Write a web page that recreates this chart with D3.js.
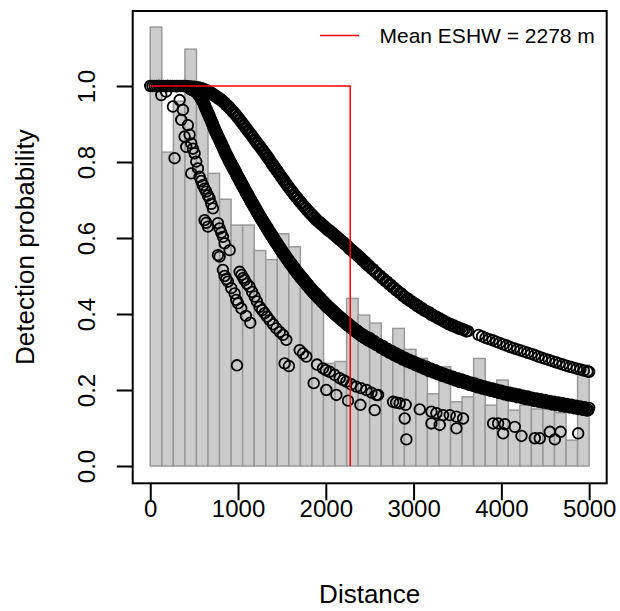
<!DOCTYPE html>
<html>
<head>
<meta charset="utf-8">
<script src="https://cdn.jsdelivr.net/npm/d3@7"></script>
<style>
  body { margin: 0; background: #fff; }
  svg { display: block; }
  text { font-family: "Liberation Sans", Arial, Helvetica, sans-serif; fill: #000; }
</style>
</head>
<body>
<svg id="chart" width="620" height="611"></svg>
<script>
// ---- data ---------------------------------------------------------------
// Histogram of scaled detection frequencies (38 equal-width bins over 0..5000 m)
const histMax = 5000;
const histHeights = [1.155, 0.826, 0.96, 1.097, 0.97, 0.770, 0.702, 0.634, 0.634, 0.567,
  0.543, 0.611, 0.577, 0.487, 0.45, 0.27, 0.275, 0.441, 0.397, 0.376,
  0.305, 0.362, 0.307, 0.283, 0.19, 0.261, 0.169, 0.182, 0.283, 0.16,
  0.226, 0.147, 0.16, 0.15, 0.15, 0.14, 0.068, 0.266];

// Fitted detection probability per observation, high-detectability group
const upperObsA = [
  [0,1],[25,1],[50,1],[75,1],[100,1],[125,1],[150,1],[175,1],[200,1],[225,1],[250,1],[275,1],[300,1],
  [325,1],[350,1],[375,1],[400,1],[425,.999],[450,.999],[475,.998],
  [500,.998],[525,.997],[550,.996],[575,.995],[600,.993],[625,.990],[650,.988],[675,.985],[700,.982],
  [725,.978],[750,.974],[775,.970],[800,.966],[825,.961],[850,.956],[875,.950],[900,.945],[925,.938],
  [950,.932],[975,.925],[1000,.918],[1025,.911],[1050,.903],[1075,.896],[1100,.888],[1125,.880],
  [1150,.873],[1175,.865],[1200,.857],[1225,.849],[1250,.842],[1275,.834],[1300,.826],[1325,.818],
  [1350,.810],[1375,.801],[1400,.793],[1425,.785],[1450,.777],[1475,.768],[1500,.760],[1525,.752],
  [1550,.744],[1575,.736],[1600,.728],[1625,.721],[1650,.713],[1675,.706],[1700,.699],[1725,.692],
  [1750,.685],[1775,.679],[1800,.672],[1825,.666],[1850,.660],[1875,.654],[1900,.648],[1925,.643],
  [1950,.638],[1975,.633],[2000,.628],[2025,.623],[2050,.619],[2075,.614],[2100,.609],[2125,.604],
  [2150,.599],[2175,.594],[2200,.589],[2225,.584],[2250,.579],[2275,.573],[2300,.568],[2325,.563],
  [2350,.558],[2375,.553],[2400,.548],[2425,.542],[2450,.537],[2475,.531],
  [2500,.526],[2540,.518],[2580,.509],[2620,.501],[2660,.493],[2700,.485],[2740,.477],[2780,.469],
  [2820,.461],[2860,.454],[2900,.446],[2940,.440],[2980,.433],[3020,.427],[3060,.421],[3100,.415],
  [3140,.409],[3180,.404],[3220,.398],[3260,.393],[3300,.388],[3340,.383],[3380,.378],[3420,.374],
  [3460,.370],[3500,.366],[3540,.362],[3580,.359],[3620,.355],
  [3740,.345],[3780,.341],[3820,.337],[3860,.334],[3900,.331],[3940,.327],[3980,.324],[4020,.320],
  [4060,.317],[4100,.313],[4140,.310],[4180,.307],[4220,.304],[4260,.301],[4300,.298],[4340,.295],
  [4380,.292],[4420,.288],[4460,.285],[4500,.282],[4540,.279],[4580,.276],[4620,.273],[4660,.270],
  [4700,.267],[4740,.264],[4780,.261],[4820,.259],[4860,.256],[4900,.254],[4940,.251],[4980,.249],[5000,.248]
];
const upperObsB = [
  [512,.995],[537,.994],[562,.993],[587,.991],[612,.989],[637,.986],[662,.984],[687,.981],[712,.977],
  [737,.973],[762,.969],[787,.965],[812,.961],[837,.956],[862,.950],[887,.945],[912,.939],[937,.932],
  [962,.926],[987,.919],[1012,.912],[1037,.904],[1062,.897],[1087,.889],[1112,.881],[1137,.874],
  [1162,.866],[1187,.858],[1212,.850],[1237,.843],[1262,.835],[1287,.827],[1312,.819],[1337,.811],
  [1362,.803],[1387,.794],[1412,.786],[1437,.778],[1462,.770],[1487,.761],[1512,.753],[1537,.745],
  [1562,.737],[1587,.729],[1612,.722],[1637,.714],[1662,.707],[1687,.700],[1712,.693],[1737,.686],
  [1762,.679],[1787,.673],[1812,.666],[1837,.660],[1862,.654],[1887,.648],[1912,.643],[1937,.638],
  [1962,.633],[1987,.628],[2012,.623],[2037,.618],[2062,.614],[2087,.609],[2112,.604],[2137,.599],
  [2162,.594],[2187,.589],[2212,.584],[2237,.579],[2262,.573],[2287,.568],[2312,.563],[2337,.558],
  [2362,.553],[2387,.548],[2412,.542],[2437,.537],[2462,.531],[2487,.526],
  [2520,.519],[2560,.511],[2600,.502],[2640,.494],[2680,.486],[2720,.478],[2760,.470],[2800,.462],
  [2840,.455],[2880,.447],[2920,.440],[2960,.434],[3000,.427],[3040,.421],[3080,.415],[3120,.409],
  [3160,.404],[3200,.398],[3240,.393],[3280,.388],[3320,.383],[3360,.378],[3400,.373],[3440,.369],
  [3480,.365],[3520,.361],[3560,.358],[3600,.354]
];

// Intermediate-detectability group
const middleObsA = [
  [100,1],[200,1],[300,.999],[400,.999],
  [450,.998],[460,.997],[470,.996],[480,.995],[490,.994],[500,.993],[510,.991],[520,.989],[530,.987],
  [540,.984],[550,.982],[560,.978],[570,.974],[580,.970],[590,.966],[600,.962],[610,.957],[620,.951],
  [630,.946],[640,.940],[650,.935],[660,.929],[670,.924],[680,.918],[690,.913],[700,.907],[710,.902],
  [720,.896],[730,.891],[740,.885],[750,.880],[760,.875],[770,.870],[780,.865],[790,.860],[800,.855],
  [810,.850],[820,.845],[830,.840],[840,.835],[850,.830],[860,.825],[870,.820],[880,.816],[890,.811],
  [900,.806],[910,.802],[920,.798],[930,.793],[940,.789],[950,.785],[960,.781],[970,.776],[980,.772],
  [990,.767],[1000,.763],[1010,.759],[1020,.754],[1030,.750],[1040,.745],[1050,.741],[1060,.737],
  [1070,.733],[1080,.728],[1090,.724],[1100,.720],[1110,.716],[1120,.712],[1130,.707],[1140,.703],
  [1150,.699],[1160,.695],[1170,.691],[1180,.687],[1190,.683],[1200,.679],[1210,.675],[1220,.671],
  [1230,.667],[1240,.663],[1250,.659],[1260,.655],[1270,.651],[1280,.648],[1290,.644],[1300,.640],
  [1310,.636],[1320,.632],[1330,.629],[1340,.625],[1350,.621],[1360,.617],[1370,.614],[1380,.610],
  [1390,.607],[1400,.603],[1410,.599],[1420,.596],[1430,.592],[1440,.589],[1450,.585],[1460,.582],
  [1470,.578],[1480,.575],[1490,.571],[1500,.568],
  [1515,.563],[1530,.558],[1545,.553],[1560,.548],[1575,.543],[1590,.538],[1605,.534],[1620,.529],
  [1635,.524],[1650,.520],[1665,.515],[1680,.511],[1695,.506],[1710,.502],[1725,.498],[1740,.494],
  [1755,.490],[1770,.485],[1785,.481],[1800,.477],[1815,.473],[1830,.469],[1845,.465],[1860,.461],
  [1875,.457],[1890,.454],[1905,.450],[1920,.446],[1935,.443],[1950,.439],[1965,.435],[1980,.432],
  [1995,.428],[2010,.425],[2025,.421],[2040,.418],[2055,.415],[2070,.412],[2085,.408],[2100,.405],
  [2115,.402],[2130,.399],[2145,.396],[2160,.393],[2175,.390],[2190,.387],[2205,.384],[2220,.381],
  [2235,.378],[2250,.376],[2265,.373],[2280,.370],[2295,.367],[2310,.364],[2325,.362],[2340,.359],
  [2355,.357],[2370,.354],[2385,.351],[2400,.349],[2415,.347],[2430,.344],[2445,.342],[2460,.340],
  [2475,.337],[2490,.335],
  [2500,.337],[2525,.325],[2550,.329],[2575,.318],[2600,.322],[2625,.311],[2650,.316],[2675,.304],
  [2700,.309],[2725,.298],[2750,.303],[2775,.292],[2800,.297],[2825,.286],[2850,.291],[2875,.280],
  [2900,.285],[2925,.275],[2950,.280],[2975,.270],[3000,.275],[3025,.265],[3050,.270],[3075,.260],
  [3100,.265],[3125,.255],[3150,.261],[3175,.250],[3200,.256],[3225,.246],[3250,.252],[3275,.241],
  [3300,.247],[3325,.237],[3350,.243],[3375,.233],[3400,.239],[3425,.229],[3450,.235],[3475,.225],
  [3500,.231],[3525,.221],[3550,.228],[3575,.218],[3600,.224],[3625,.214],[3650,.220],[3675,.211],
  [3700,.217],[3725,.207],[3750,.213],[3775,.204],[3800,.210],[3825,.201],[3850,.207],[3875,.198],
  [3900,.204],[3925,.195],[3950,.201],[3975,.192],[4000,.198],[4025,.189],[4050,.195],[4075,.186],
  [4100,.193],[4125,.184],[4150,.190],[4175,.181],[4200,.188],[4225,.179],[4250,.185],[4275,.176],
  [4300,.183],[4325,.174],[4350,.180],[4375,.171],[4400,.178],[4425,.169],[4450,.176],[4475,.167],
  [4500,.174],[4525,.165],[4550,.171],[4575,.162],[4600,.169],[4625,.160],[4650,.167],[4675,.158],
  [4700,.165],[4725,.156],[4750,.163],[4775,.154],[4800,.161],[4825,.152],[4850,.159],[4875,.150],
  [4900,.157],[4925,.148],[4950,.155],[4975,.146],[5000,.153],[4990,.147]
];
const middleObsB = [
  [455,.992],[465,.991],[475,.990],[485,.989],[495,.988],[505,.987],[515,.985],[525,.983],[535,.981],
  [545,.978],[555,.975],[565,.971],[575,.967],[585,.963],[595,.959],[605,.955],[615,.949],[625,.944],
  [635,.938],[645,.933],[655,.927],[665,.922],[675,.916],[685,.911],[695,.905],[705,.900],[715,.894],
  [725,.889],[735,.883],[745,.878],[755,.873],[765,.868],[775,.863],[785,.858],[795,.853],[805,.848],
  [815,.843],[825,.838],[835,.833],[845,.828],[855,.823],[865,.818],[875,.813],[885,.809],[895,.804],
  [905,.799],[915,.795],[925,.791],[935,.786],[945,.782],[955,.778],[965,.774],[975,.769],[985,.765],
  [995,.760],[1005,.756],[1015,.752],[1025,.747],[1035,.743],[1045,.738],[1055,.734],[1065,.730],
  [1075,.726],[1085,.721],[1095,.717],[1105,.713],[1115,.709],[1125,.705],[1135,.700],[1145,.696],
  [1155,.692],[1165,.688],[1175,.684],[1185,.680],[1195,.676],[1205,.672],[1215,.668],[1225,.664],
  [1235,.660],[1245,.656],[1255,.652],[1265,.648],[1275,.645],[1285,.641],[1295,.637],[1305,.633],
  [1315,.629],[1325,.626],[1335,.622],[1345,.618],[1355,.614],[1365,.611],[1375,.607],[1385,.604],
  [1395,.600],[1405,.596],[1415,.593],[1425,.589],[1435,.586],[1445,.582],[1455,.579],[1465,.575],
  [1475,.572],[1485,.568],[1495,.565],
  [1507,.560],[1522,.555],[1537,.550],[1552,.545],[1567,.540],[1582,.535],[1597,.530],[1612,.526],
  [1627,.521],[1642,.516],[1657,.512],[1672,.507],[1687,.503],[1702,.498],[1717,.494],[1732,.490],
  [1747,.486],[1762,.482],[1777,.477],[1792,.473],[1807,.469],[1822,.465],[1837,.461],[1852,.457],
  [1867,.453],[1882,.450],[1897,.446],[1912,.442],[1927,.439],[1942,.435],[1957,.431],[1972,.428],
  [1987,.424],[2002,.421],[2017,.417],[2032,.414],[2047,.411],[2062,.408],[2077,.404],[2092,.401],
  [2107,.398],[2122,.395],[2137,.392],[2152,.389],[2167,.386],[2182,.383],[2197,.380],[2212,.377],
  [2227,.374],[2242,.371],[2257,.369],[2272,.366],[2287,.363],[2302,.360],[2317,.357],[2332,.355],
  [2347,.352],[2362,.350],[2377,.347],[2392,.344],[2407,.342],[2422,.340],[2437,.337],[2452,.335],
  [2467,.333],[2482,.330],
  [2512,.331],[2537,.327],[2562,.323],[2587,.320],[2612,.316],[2637,.313],[2662,.310],[2687,.306],
  [2712,.303],[2737,.300],[2762,.297],[2787,.294],[2812,.291],[2837,.288],[2862,.285],[2887,.282],
  [2912,.280],[2937,.277],[2962,.275],[2987,.272],[3012,.270],[3037,.267],[3062,.265],[3087,.262],
  [3112,.260],[3137,.258],[3162,.255],[3187,.253],[3212,.251],[3237,.249],[3262,.246],[3287,.244],
  [3312,.242],[3337,.240],[3362,.238],[3387,.236],[3412,.234],[3437,.232],[3462,.230],[3487,.228],
  [3512,.226],[3537,.224],[3562,.223],[3587,.221],[3612,.219],[3637,.217],[3662,.215],[3687,.214],
  [3712,.212],[3737,.210],[3762,.208],[3787,.207],[3812,.205],[3837,.204],[3862,.202],[3887,.201],
  [3912,.199],[3937,.198],[3962,.196],[3987,.195],[4012,.193],[4037,.192],[4062,.190],[4087,.189],
  [4112,.188],[4137,.187],[4162,.185],[4187,.184],[4212,.183],[4237,.182],[4262,.180],[4287,.179],
  [4312,.178],[4337,.177],[4362,.175],[4387,.174],[4412,.173],[4437,.172],[4462,.171],[4487,.170],
  [4512,.169],[4537,.168],[4562,.166],[4587,.165],[4612,.164],[4637,.163],[4662,.162],[4687,.161],
  [4712,.160],[4737,.159],[4762,.158],[4787,.157],[4812,.156],[4837,.155],[4862,.154],[4887,.153],
  [4912,.152],[4937,.151],[4962,.150],[4987,.149]
];

// Low-detectability group
const lowerObs = [
  [125,.976],[180,.985],[258,.946],[334,.963],[372,.937],[277,.810],[353,.911],[391,.867],[410,.840],
  [429,.897],[448,.872],[467,.849],[486,.835],[505,.823],[524,.801],[467,.770],[543,.783],[562,.761],
  [581,.750],[600,.739],[619,.730],[638,.722],[657,.712],[676,.704],[695,.690],[714,.678],[619,.647],
  [638,.640],[657,.630],[771,.639],[790,.625],[809,.614],[828,.603],[847,.586],[771,.555],[904,.568],
  [790,.551],[828,.516],[847,.500],[866,.492],[885,.485],[923,.468],[961,.454],[980,.437],[1000,.428],
  [1037,.415],[1090,.395],[1140,.377],[988,.265],
  [1018,.511],[1040,.503],[1060,.495],[1075,.489],[1100,.480],[1132,.472],[1160,.458],[1189,.446],
  [1215,.433],[1246,.419],[1275,.410],[1303,.402],[1330,.393],[1360,.384],[1400,.373],[1436,.362],
  [1475,.353],[1512,.345],[1550,.332],[1531,.270],[1580,.263],
  [1702,.305],[1740,.296],[1778,.288],
  [1900,.267],[1968,.257],[2000,.252],[2044,.248],[2100,.240],[2158,.231],[2200,.226],[2234,.222],
  [2290,.215],[2348,.209],[2400,.205],[2462,.200],[2520,.193],[2576,.187],[2595,.187],
  [1862,.218],[2006,.200],[2120,.187],[2253,.172],[2394,.161],[2557,.147],
  [2766,.169],[2800,.167],[2842,.165],[2910,.161],[2899,.125],[2918,.070],
  [3070,.149],[3203,.143],[3260,.139],[3336,.134],[3412,.134],[3488,.130],[3564,.125],
  [3203,.112],[3298,.108],[3488,.099],
  [3906,.112],[3963,.112],[4039,.110],[4153,.103],[4020,.086],[4229,.079],[4381,.073],[4438,.073],
  [4552,.090],[4609,.070],[4674,.090],[4875,.086]
];

const meanESHW = 2278;
const legendLabel = "Mean ESHW = 2278 m";
const xTicks = [0, 1000, 2000, 3000, 4000, 5000];
const yTicks = [0, 0.2, 0.4, 0.6, 0.8, 1.0];
const xTitle = "Distance";
const yTitle = "Detection probability";

// ---- layout -------------------------------------------------------------
const plot = { left: 132.7, right: 606.7, top: 11, bottom: 483.3 };
const svg = d3.select("#chart");

const x = d3.scaleLinear().domain([-200, 5200]).range([plot.left, plot.right]);
const y = d3.scaleLinear().domain([-0.04553, 1.19737]).range([plot.bottom, plot.top]);

// ---- histogram ----------------------------------------------------------
const binW = histMax / histHeights.length;
svg.append("g").selectAll("rect")
  .data(histHeights)
  .join("rect")
  .attr("x", (d, i) => x(i * binW))
  .attr("width", (d, i) => x((i + 1) * binW) - x(i * binW))
  .attr("y", d => y(d))
  .attr("height", d => y(0) - y(d))
  .attr("fill", "#cccccc")
  .attr("stroke", "#999999")
  .attr("stroke-width", 1.5);

// ---- observation points -------------------------------------------------
const pts = svg.append("g")
  .attr("fill", "none")
  .attr("stroke", "#000")
  .attr("stroke-width", 1.8);
[upperObsA, upperObsB, middleObsA, middleObsB, lowerObs].forEach(group => {
  pts.append("g").selectAll("circle")
    .data(group)
    .join("circle")
    .attr("cx", d => x(d[0]))
    .attr("cy", d => y(d[1]))
    .attr("r", 5.3);
});

// ---- mean effective strip half-width ------------------------------------
svg.append("path")
  .attr("d", d3.line()([[x(0), y(1)], [x(meanESHW), y(1)], [x(meanESHW), y(0)]]))
  .attr("fill", "none")
  .attr("stroke", "#ff0000")
  .attr("stroke-width", 1.5);

// ---- frame and axes -----------------------------------------------------
svg.append("rect")
  .attr("x", plot.left).attr("y", plot.top)
  .attr("width", plot.right - plot.left).attr("height", plot.bottom - plot.top)
  .attr("fill", "none").attr("stroke", "#000").attr("stroke-width", 2);

const xAxis = svg.append("g")
  .attr("transform", `translate(0,${plot.bottom})`)
  .call(d3.axisBottom(x).tickValues(xTicks).tickSize(17).tickFormat(d3.format("d")));
xAxis.select(".domain").remove();
xAxis.selectAll(".tick line").attr("stroke-width", 2);
xAxis.selectAll(".tick text")
  .attr("y", 34).attr("dy", 0)
  .style("font-size", "24px")
  .style("font-family", "'Liberation Sans', Arial, sans-serif");

const yAxis = svg.append("g")
  .attr("transform", `translate(${plot.left},0)`)
  .call(d3.axisLeft(y).tickValues(yTicks).tickSize(16).tickFormat(d3.format(".1f")));
yAxis.select(".domain").remove();
yAxis.selectAll(".tick line").attr("stroke-width", 2);
yAxis.selectAll(".tick text")
  .attr("x", 0).attr("dy", 0)
  .attr("text-anchor", "middle")
  .attr("transform", "translate(-38,0) rotate(-90)")
  .style("font-size", "24px")
  .style("font-family", "'Liberation Sans', Arial, sans-serif");

svg.append("text")
  .attr("x", (plot.left + plot.right) / 2).attr("y", 603)
  .attr("text-anchor", "middle")
  .style("font-size", "26px")
  .text(xTitle);

svg.append("text")
  .attr("transform", `translate(33.5,${(plot.top + plot.bottom) / 2}) rotate(-90)`)
  .attr("text-anchor", "middle")
  .style("font-size", "26px")
  .text(yTitle);

// ---- legend -------------------------------------------------------------
svg.append("line")
  .attr("x1", 320).attr("x2", 359).attr("y1", 35.5).attr("y2", 35.5)
  .attr("stroke", "#ff0000").attr("stroke-width", 1.5);
svg.append("text")
  .attr("x", 379.5).attr("y", 43)
  .style("font-size", "21px")
  .text(legendLabel);
</script>
</body>
</html>
